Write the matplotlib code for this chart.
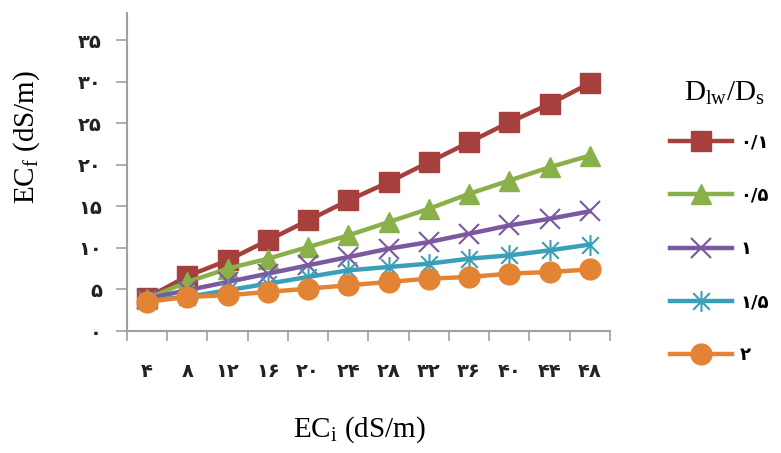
import matplotlib
matplotlib.use("Agg")
import numpy as np
from matplotlib import pyplot as plt
from matplotlib.path import Path

# EC_i values (dS/m) and Persian tick labels
ec_i = [4, 8, 12, 16, 20, 24, 28, 32, 36, 40, 44, 48]
x_labels = ["۴", "۸", "۱۲", "۱۶", "۲۰", "۲۴", "۲۸", "۳۲", "۳۶", "۴۰", "۴۴", "۴۸"]
y_ticks = [0, 5, 10, 15, 20, 25, 30, 35]
y_labels = ["۰", "۵", "۱۰", "۱۵", "۲۰", "۲۵", "۳۰", "۳۵"]

# EC_f for each D_lw/D_s ratio
ec_f_01 = [4.0, 6.6, 8.5, 10.9, 13.3, 15.7, 17.9, 20.3, 22.7, 25.1, 27.3, 29.8]
ec_f_05 = [3.9, 5.9, 7.5, 8.7, 10.1, 11.5, 13.1, 14.7, 16.5, 18.1, 19.7, 21.1]
ec_f_1 = [3.9, 4.9, 5.9, 6.9, 7.9, 8.9, 9.9, 10.7, 11.7, 12.7, 13.5, 14.4]
ec_f_15 = [3.7, 4.1, 4.9, 5.7, 6.5, 7.3, 7.7, 8.1, 8.7, 9.1, 9.7, 10.4]
ec_f_2 = [3.5, 4.1, 4.3, 4.7, 5.1, 5.5, 5.9, 6.3, 6.5, 6.9, 7.1, 7.4]

# Excel style "star": an x with a vertical bar
star = Path([(-1, -1), (1, 1), (-1, 1), (1, -1), (0, -1.25), (0, 1.25)],
            [Path.MOVETO, Path.LINETO, Path.MOVETO, Path.LINETO, Path.MOVETO, Path.LINETO])

series = [
    ("۰/۱", ec_f_01, "#A6403C", "s", 14, 1),
    ("۰/۵", ec_f_05, "#8AB04A", "^", 15, 1),
    ("۱", ec_f_1, "#7B58A0", "x", 14, 1.5),
    ("۱/۵", ec_f_15, "#3A9FB8", star, 15, 1.5),
    ("۲", ec_f_2, "#E38434", "o", 15, 1),
]

fig = plt.figure(figsize=(7.81, 4.53), dpi=100)
ax = fig.add_axes([0.1626, 0.2693, 0.6184, 0.702])

pos = np.arange(len(ec_i))
for label, vals, color, marker, ms, mew in series:
    ax.plot(pos, vals, color=color, lw=3.2, marker=marker, ms=ms,
            mew=mew, mfc=color, mec=color, label=label)

ax.set_xlim(-0.5, len(ec_i) - 0.5)
ax.set_ylim(0, 38.25)

# category axis: tick marks on boundaries, labels at centres
ax.set_xticks(np.arange(-0.5, len(ec_i)), labels=[])
ax.set_xticks(pos, labels=x_labels, minor=True)
ax.tick_params(axis="x", which="major", length=7, width=1.2, color="#A0A0A0", direction="out")
ax.tick_params(axis="x", which="minor", length=0, pad=22)
ax.set_yticks(y_ticks, labels=y_labels)
ax.tick_params(axis="y", length=8, width=1.2, color="#A0A0A0", pad=10)
for t in ax.get_xticklabels(minor=True) + ax.get_yticklabels():
    t.set_fontsize(14)
    t.set_fontweight("bold")
    t.set_color("#222222")

for s in ["top", "right"]:
    ax.spines[s].set_visible(False)
for s in ["left", "bottom"]:
    ax.spines[s].set_color("#A0A0A0")
    ax.spines[s].set_linewidth(1.5)

ax.set_xlabel("EC$_\\mathregular{i}$ (dS/m)", family="Liberation Serif", fontsize=21)
ax.set_ylabel("EC$_\\mathregular{f}$ (dS/m)", family="Liberation Serif", fontsize=21)
ax.xaxis.set_label_coords(0.482, -0.311)
ax.xaxis.label.set_va("center")
ax.yaxis.set_label_coords(-0.207, 0.61)
ax.yaxis.label.set_va("center")

leg = ax.legend(loc="upper left", bbox_to_anchor=(1.09, 0.672), frameon=False,
                handlelength=3.45, labelspacing=1.95, handletextpad=0.45,
                prop={"size": 13, "weight": "bold"})
fig.text(0.928, 0.795, "D$_\\mathregular{lw}$/D$_\\mathregular{s}$", family="Liberation Serif",
         fontsize=21, ha="center", va="center")

fig.savefig("out.png", dpi=100)
